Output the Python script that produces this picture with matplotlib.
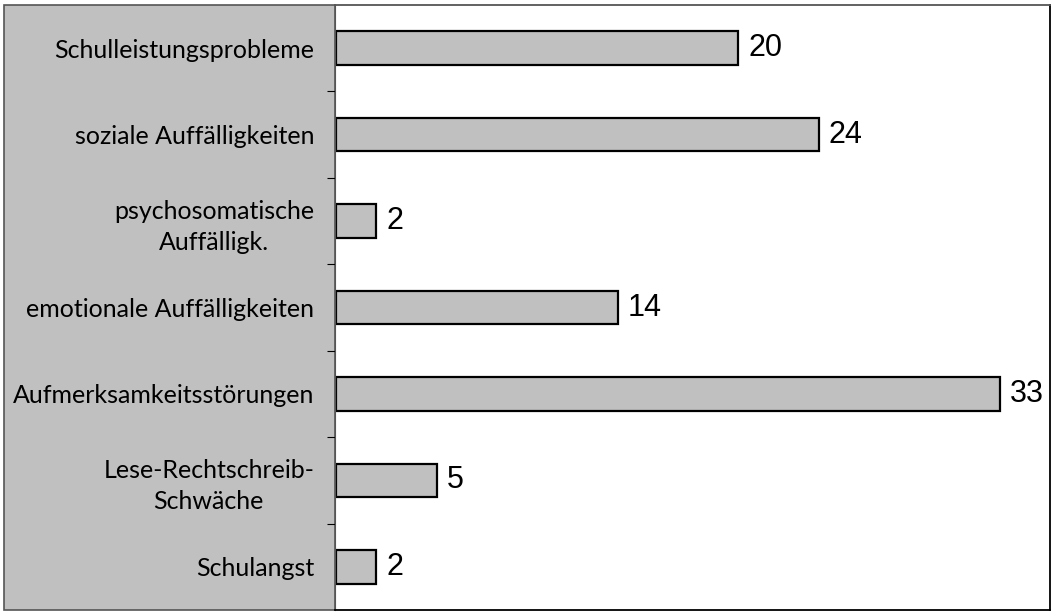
import matplotlib
matplotlib.use("Agg")
from matplotlib import pyplot as plt
from matplotlib.patches import Rectangle
import numpy as np

# data, top to bottom
categories = [
    "Schulleistungsprobleme",
    "soziale Auffälligkeiten",
    "psychosomatische\nAuffälligk.",
    "emotionale Auffälligkeiten",
    "Aufmerksamkeitsstörungen",
    "Lese-Rechtschreib-\nSchwäche",
    "Schulangst",
]
values = [20, 24, 2, 14, 33, 5, 2]

W, H = 1056, 613
fig = plt.figure(figsize=(W / 100, H / 100), dpi=100)

# grey label panel behind the category names
panel = Rectangle((4 / W, 1 - 610 / H), (335 - 4) / W, (610 - 5) / H,
                  transform=fig.transFigure, facecolor="#c0c0c0",
                  edgecolor="#555555", linewidth=1.2, zorder=-5)
fig.patches.append(panel)

ax = fig.add_axes([335 / W, 1 - 610 / H, (1050 - 335) / W, (610 - 5) / H])
ax.set_facecolor("white")

y = np.arange(len(categories))
ax.barh(y, values, height=0.39, color="#c0c0c0", edgecolor="black",
        linewidth=1.6, left=0)

for yi, v in zip(y, values):
    ax.text(v + 0.5, yi, str(v), va="center", ha="left",
            fontsize=22, family="Liberation Sans")

ax.set_xlim(-0.05, 35.5)
ax.set_ylim(len(categories) - 0.5, -0.5)

ax.set_xticks([])
ax.set_yticks(y)
ax.set_yticklabels(categories, fontsize=18, family="Lato",
                   multialignment="center", linespacing=1.4)
ax.tick_params(axis="y", which="major", length=0, pad=15)
ax.set_yticks(np.arange(0.5, len(categories) - 1, 1), minor=True)
ax.tick_params(axis="y", which="minor", length=6, width=0.8, direction="out")

for s in ["top", "right", "bottom"]:
    ax.spines[s].set_linewidth(1.3)
    ax.spines[s].set_color("black")
ax.spines["left"].set_linewidth(0.8)
ax.spines["left"].set_color("#555555")
ax.spines["top"].set_color("#555555")

fig.savefig("out.png", dpi=100)
